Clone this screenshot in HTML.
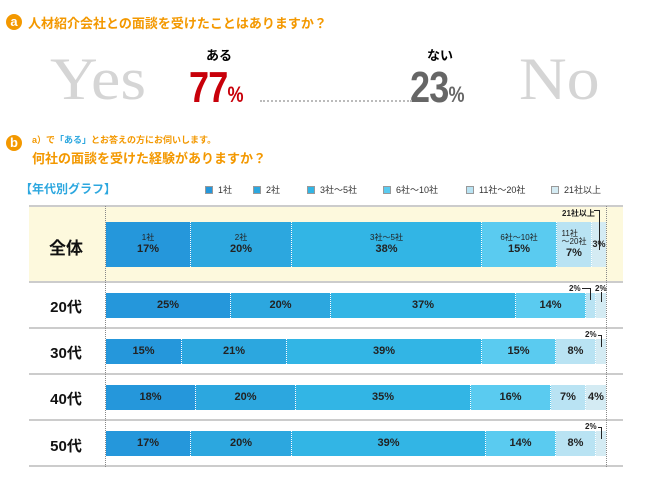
<!DOCTYPE html>
<html><head><meta charset="utf-8">
<style>
*{margin:0;padding:0;box-sizing:border-box}
body{width:647px;height:489px;background:#fff;position:relative;overflow:hidden;font-family:"Liberation Sans","Noto Sans CJK JP",sans-serif}
.a{position:absolute;white-space:nowrap}
.circ{position:absolute;width:16px;height:16px;border-radius:50%;background:#f39800;color:#fff;font-weight:bold;font-size:13px;line-height:15px;text-align:center}
.or{color:#f39800;font-weight:bold}
.big{font-family:"Liberation Serif",serif;color:#d5d5d5;font-size:60px;line-height:1;transform:scaleX(1.1);transform-origin:left}
.num{font-weight:bold;font-size:44px;line-height:1;transform:scaleX(0.82);transform-origin:left;letter-spacing:-1px}
.num span{font-size:22px;letter-spacing:0}
.leg{position:absolute;top:183px;font-size:9px;color:#333}
.leg i{display:inline-block;width:8px;height:8px;margin-right:5px;vertical-align:-1px;border:1px solid #999}
.hl{position:absolute;left:29px;width:594px;height:0;border-top:2px solid #ccc}
.vl{position:absolute;top:206px;height:261px;border-left:1px dotted #888}
.row{position:absolute;left:106px;width:500px;display:flex}
.row div{height:100%;border-right:1px dotted #fff;display:flex;flex-direction:column;align-items:center;justify-content:center;font-weight:bold;font-size:11px;color:#222;line-height:1.1;overflow:visible;white-space:nowrap}
.row div:last-child{border-right:none}
.c1{background:#2597db}.c2{background:#2ca7df}.c3{background:#32b5e5}.c4{background:#5acbf0}.c5{background:#b9e3f3}.c6{background:#d4ebf3}
.row small{font-size:8px;font-weight:normal}
.lab{position:absolute;left:30px;width:72px;text-align:center;font-weight:bold;font-size:15px;color:#111}
.sm{position:absolute;font-size:8px;font-weight:bold;color:#222}
</style></head><body>
<div class="circ" style="left:6px;top:14px">a</div>
<div class="a or" style="left:28px;top:13px;font-size:13px">人材紹介会社との面談を受けたことはありますか？</div>
<div class="a big" style="left:50px;top:49px">Yes</div>
<div class="a big" style="left:519px;top:49px">No</div>
<div class="a" style="left:206px;top:45px;font-size:13px;font-weight:bold">ある</div>
<div class="a" style="left:427px;top:45px;font-size:13px;font-weight:bold">ない</div>
<div class="a num" style="left:189px;top:66px;color:#c8000a">77<span>%</span></div>
<div class="a num" style="left:410px;top:66px;color:#666">23<span>%</span></div>
<div class="a" style="left:260px;top:100px;width:152px;border-top:2px dotted #bbb"></div>

<div class="circ" style="left:6px;top:135px">b</div>
<div class="a or" style="left:32px;top:133px;font-size:9px">a）で<span style="color:#2ca7df">「ある」</span>とお答えの方にお伺いします。</div>
<div class="a or" style="left:32px;top:148px;font-size:13px">何社の面談を受けた経験がありますか？</div>
<div class="a" style="left:20px;top:180px;font-size:12px;font-weight:bold;color:#2ca7df">【年代別グラフ】</div>
<div class="leg" style="left:205px"><i class="c1"></i>1社</div>
<div class="leg" style="left:253px"><i class="c2"></i>2社</div>
<div class="leg" style="left:307px"><i class="c3"></i>3社～5社</div>
<div class="leg" style="left:383px"><i class="c4"></i>6社～10社</div>
<div class="leg" style="left:466px"><i class="c5"></i>11社～20社</div>
<div class="leg" style="left:551px"><i class="c6"></i>21社以上</div>

<div class="a" style="left:29px;top:206px;width:594px;height:76px;background:#fdf9dd"></div>
<div class="hl" style="top:205px"></div>
<div class="hl" style="top:281px"></div>
<div class="hl" style="top:327px"></div>
<div class="hl" style="top:373px"></div>
<div class="hl" style="top:419px"></div>
<div class="hl" style="top:465px"></div>
<div class="vl" style="left:105px"></div>
<div class="vl" style="left:606px"></div>

<div class="lab" style="top:234px;font-size:17px">全体</div>
<div class="lab" style="top:296px">20代</div>
<div class="lab" style="top:342px">30代</div>
<div class="lab" style="top:388px">40代</div>
<div class="lab" style="top:435px">50代</div>

<div class="row" style="top:222px;height:45px">
<div class="c1" style="width:85px"><small>1社</small>17%</div>
<div class="c2" style="width:101px"><small>2社</small>20%</div>
<div class="c3" style="width:190px"><small>3社～5社</small>38%</div>
<div class="c4" style="width:75px"><small>6社～10社</small>15%</div>
<div class="c5" style="width:35px"><small>11社<br>～20社</small>7%</div>
<div class="c6" style="width:14px;font-size:9px">3%</div>
</div>
<div class="sm" style="left:562px;top:208px">21社以上</div>
<div class="a" style="left:594px;top:210px;width:6px;height:40px;border-top:1px solid #222;border-right:1px solid #222"></div>

<div class="row" style="top:293px;height:25px">
<div class="c1" style="width:125px">25%</div>
<div class="c2" style="width:100px">20%</div>
<div class="c3" style="width:185px">37%</div>
<div class="c4" style="width:70px">14%</div>
<div class="c5" style="width:10px"></div>
<div class="c6" style="width:10px"></div>
</div>
<div class="sm" style="left:569px;top:284px">2%</div>
<div class="a" style="left:582px;top:288px;width:9px;height:12px;border-top:1px solid #222;border-right:1px solid #222"></div>
<div class="sm" style="left:595px;top:284px">2%</div>
<div class="a" style="left:601px;top:292px;height:10px;border-left:1px solid #222"></div>

<div class="row" style="top:339px;height:25px">
<div class="c1" style="width:76px">15%</div>
<div class="c2" style="width:105px">21%</div>
<div class="c3" style="width:195px">39%</div>
<div class="c4" style="width:74px">15%</div>
<div class="c5" style="width:40px">8%</div>
<div class="c6" style="width:10px"></div>
</div>
<div class="sm" style="left:585px;top:330px">2%</div>
<div class="a" style="left:598px;top:335px;width:4px;height:12px;border-top:1px solid #222;border-right:1px solid #222"></div>

<div class="row" style="top:385px;height:25px">
<div class="c1" style="width:90px">18%</div>
<div class="c2" style="width:100px">20%</div>
<div class="c3" style="width:175px">35%</div>
<div class="c4" style="width:80px">16%</div>
<div class="c5" style="width:35px">7%</div>
<div class="c6" style="width:20px">4%</div>
</div>

<div class="row" style="top:431px;height:25px">
<div class="c1" style="width:85px">17%</div>
<div class="c2" style="width:101px">20%</div>
<div class="c3" style="width:194px">39%</div>
<div class="c4" style="width:70px">14%</div>
<div class="c5" style="width:40px">8%</div>
<div class="c6" style="width:10px"></div>
</div>
<div class="sm" style="left:585px;top:422px">2%</div>
<div class="a" style="left:598px;top:427px;width:4px;height:12px;border-top:1px solid #222;border-right:1px solid #222"></div>
</body></html>
